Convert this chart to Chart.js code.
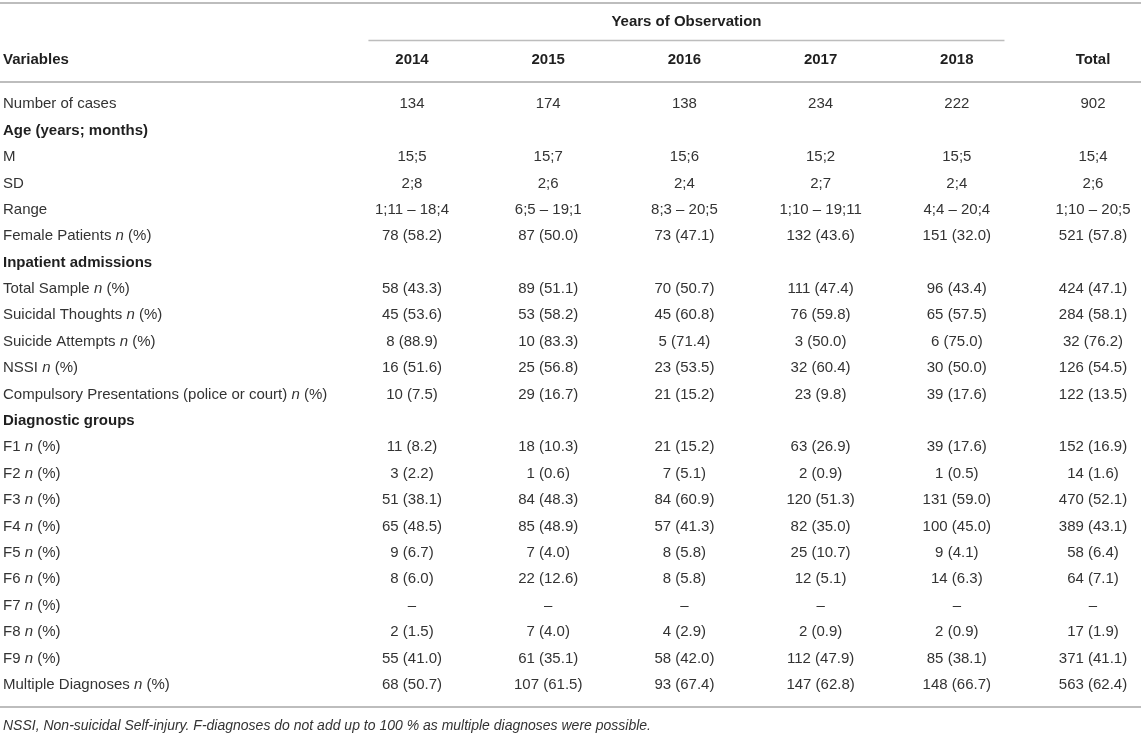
<!DOCTYPE html>
<html>
<head>
<meta charset="utf-8">
<title>Years of Observation</title>
<script src="https://cdn.jsdelivr.net/npm/chart.js@4.4.1/dist/chart.umd.min.js"></script>
<style>
  html, body { margin: 0; padding: 0; background: #fff; }
  canvas { display: block; }
</style>
</head>
<body>
<canvas id="tableChart" width="1143" height="733"></canvas>
<script>
// table content
const columns = ['2014', '2015', '2016', '2017', '2018', 'Total'];

const rows = [
  'Number of cases',
  'Age (years; months)',
  'M',
  'SD',
  'Range',
  'Female Patients n (%)',
  'Inpatient admissions',
  'Total Sample n (%)',
  'Suicidal Thoughts n (%)',
  'Suicide Attempts n (%)',
  'NSSI n (%)',
  'Compulsory Presentations (police or court) n (%)',
  'Diagnostic groups',
  'F1 n (%)', 'F2 n (%)', 'F3 n (%)', 'F4 n (%)', 'F5 n (%)',
  'F6 n (%)', 'F7 n (%)', 'F8 n (%)', 'F9 n (%)',
  'Multiple Diagnoses n (%)'
];

const sectionRows = ['Age (years; months)', 'Inpatient admissions', 'Diagnostic groups'];

const values2014 = ['134', '', '15;5', '2;8', '1;11 – 18;4', '78 (58.2)', '', '58 (43.3)', '45 (53.6)', '8 (88.9)', '16 (51.6)', '10 (7.5)', '',
  '11 (8.2)', '3 (2.2)', '51 (38.1)', '65 (48.5)', '9 (6.7)', '8 (6.0)', '–', '2 (1.5)', '55 (41.0)', '68 (50.7)'];
const values2015 = ['174', '', '15;7', '2;6', '6;5 – 19;1', '87 (50.0)', '', '89 (51.1)', '53 (58.2)', '10 (83.3)', '25 (56.8)', '29 (16.7)', '',
  '18 (10.3)', '1 (0.6)', '84 (48.3)', '85 (48.9)', '7 (4.0)', '22 (12.6)', '–', '7 (4.0)', '61 (35.1)', '107 (61.5)'];
const values2016 = ['138', '', '15;6', '2;4', '8;3 – 20;5', '73 (47.1)', '', '70 (50.7)', '45 (60.8)', '5 (71.4)', '23 (53.5)', '21 (15.2)', '',
  '21 (15.2)', '7 (5.1)', '84 (60.9)', '57 (41.3)', '8 (5.8)', '8 (5.8)', '–', '4 (2.9)', '58 (42.0)', '93 (67.4)'];
const values2017 = ['234', '', '15;2', '2;7', '1;10 – 19;11', '132 (43.6)', '', '111 (47.4)', '76 (59.8)', '3 (50.0)', '32 (60.4)', '23 (9.8)', '',
  '63 (26.9)', '2 (0.9)', '120 (51.3)', '82 (35.0)', '25 (10.7)', '12 (5.1)', '–', '2 (0.9)', '112 (47.9)', '147 (62.8)'];
const values2018 = ['222', '', '15;5', '2;4', '4;4 – 20;4', '151 (32.0)', '', '96 (43.4)', '65 (57.5)', '6 (75.0)', '30 (50.0)', '39 (17.6)', '',
  '39 (17.6)', '1 (0.5)', '131 (59.0)', '100 (45.0)', '9 (4.1)', '14 (6.3)', '–', '2 (0.9)', '85 (38.1)', '148 (66.7)'];
const valuesTotal = ['902', '', '15;4', '2;6', '1;10 – 20;5', '521 (57.8)', '', '424 (47.1)', '284 (58.1)', '32 (76.2)', '126 (54.5)', '122 (13.5)', '',
  '152 (16.9)', '14 (1.6)', '470 (52.1)', '389 (43.1)', '58 (6.4)', '64 (7.1)', '–', '17 (1.9)', '371 (41.1)', '563 (62.4)'];

const columnValues = [values2014, values2015, values2016, values2017, values2018, valuesTotal];

const groupTitle = 'Years of Observation';
const firstHeader = 'Variables';
const footnote = 'NSSI, Non-suicidal Self-injury. F-diagnoses do not add up to 100 % as multiple diagnoses were possible.';

// look
const FAMILY = '"Liberation Sans", Arial, Helvetica, sans-serif';
const textColor = '#333333';
const boldColor = '#1f1f1f';
const ruleColor = '#bdbdbd';
const labelX = 3;

function drawLabel(ctx, label, x, y, bold) {
  ctx.fillStyle = bold ? boldColor : textColor;
  ctx.textAlign = 'left';
  ctx.font = (bold ? 'bold ' : '') + '15px ' + FAMILY;
  const m = label.match(/^(.*) n (\(%\))$/);
  if (!m) {
    ctx.fillText(label, x, y);
    return;
  }
  // "n" is set in italics
  let head = m[1] + ' ';
  ctx.fillText(head, x, y);
  x += ctx.measureText(head).width;
  ctx.font = 'italic 15px ' + FAMILY;
  ctx.fillText('n', x, y);
  x += ctx.measureText('n').width;
  ctx.font = '15px ' + FAMILY;
  ctx.fillText(' ' + m[2], x, y);
}

function hRule(ctx, x1, x2, y, w) {
  ctx.beginPath();
  ctx.strokeStyle = ruleColor;
  ctx.lineWidth = w;
  ctx.moveTo(x1, y);
  ctx.lineTo(x2, y);
  ctx.stroke();
}

const tablePlugin = {
  id: 'tableText',
  afterDraw(chart) {
    const ctx = chart.ctx;
    const xs = chart.scales.x;
    const ys = chart.scales.y;
    const W = chart.width;
    const step = xs.getPixelForValue(1) - xs.getPixelForValue(0);
    const rowStep = ys.getPixelForValue(1) - ys.getPixelForValue(0);
    const top = ys.getPixelForValue(0) - rowStep / 2;
    const bottom = ys.getPixelForValue(rows.length - 1) + rowStep / 2;

    ctx.save();
    ctx.textBaseline = 'middle';

    // rules
    hRule(ctx, 0, W - 2, 3, 2);
    const spanL = xs.getPixelForValue(0) - step * 0.32;
    const spanR = xs.getPixelForValue(4) + step * 0.35;
    hRule(ctx, spanL, spanR, 40.5, 1.5);
    hRule(ctx, 0, W - 2, top - 9, 2);
    hRule(ctx, 0, W - 2, bottom + 9, 2);

    // headers
    ctx.font = 'bold 15px ' + FAMILY;
    ctx.fillStyle = boldColor;
    ctx.textAlign = 'center';
    ctx.fillText(groupTitle, (spanL + spanR) / 2, 22);
    columns.forEach((c, i) => ctx.fillText(c, xs.getPixelForValue(i), 60));
    ctx.textAlign = 'left';
    ctx.fillText(firstHeader, labelX, 60);

    // row labels
    rows.forEach((r, i) => drawLabel(ctx, r, labelX, ys.getPixelForValue(i), sectionRows.includes(r)));

    // cells, placed at the points the scales give
    ctx.font = '15px ' + FAMILY;
    ctx.fillStyle = textColor;
    ctx.textAlign = 'center';
    chart.data.datasets.forEach((ds, d) => {
      const meta = chart.getDatasetMeta(d);
      meta.data.forEach((el, i) => {
        ctx.fillText(ds.data[i].text, el.x, el.y);
      });
    });

    // footnote
    ctx.font = 'italic 14px ' + FAMILY;
    ctx.fillStyle = textColor;
    ctx.textAlign = 'left';
    ctx.fillText(footnote, labelX, bottom + 28);
    ctx.restore();
  }
};

const datasets = columns.map((c, ci) => ({
  label: c,
  data: rows
    .map((r, ri) => ({ x: c, y: r, text: columnValues[ci][ri] }))
    .filter(p => p.text !== ''),
  showLine: false,
  pointRadius: 0,
  pointHoverRadius: 0
}));

new Chart(document.getElementById('tableChart'), {
  type: 'line',
  data: { datasets: datasets },
  options: {
    responsive: false,
    animation: false,
    devicePixelRatio: 1,
    layout: { padding: { left: 412, right: 50, top: 91, bottom: 35 } },
    plugins: { legend: { display: false }, tooltip: { enabled: false } },
    events: [],
    scales: {
      x: { type: 'category', labels: columns, offset: false, display: false },
      y: { type: 'category', labels: rows, offset: true, display: false }
    }
  },
  plugins: [tablePlugin]
});
</script>
</body>
</html>
